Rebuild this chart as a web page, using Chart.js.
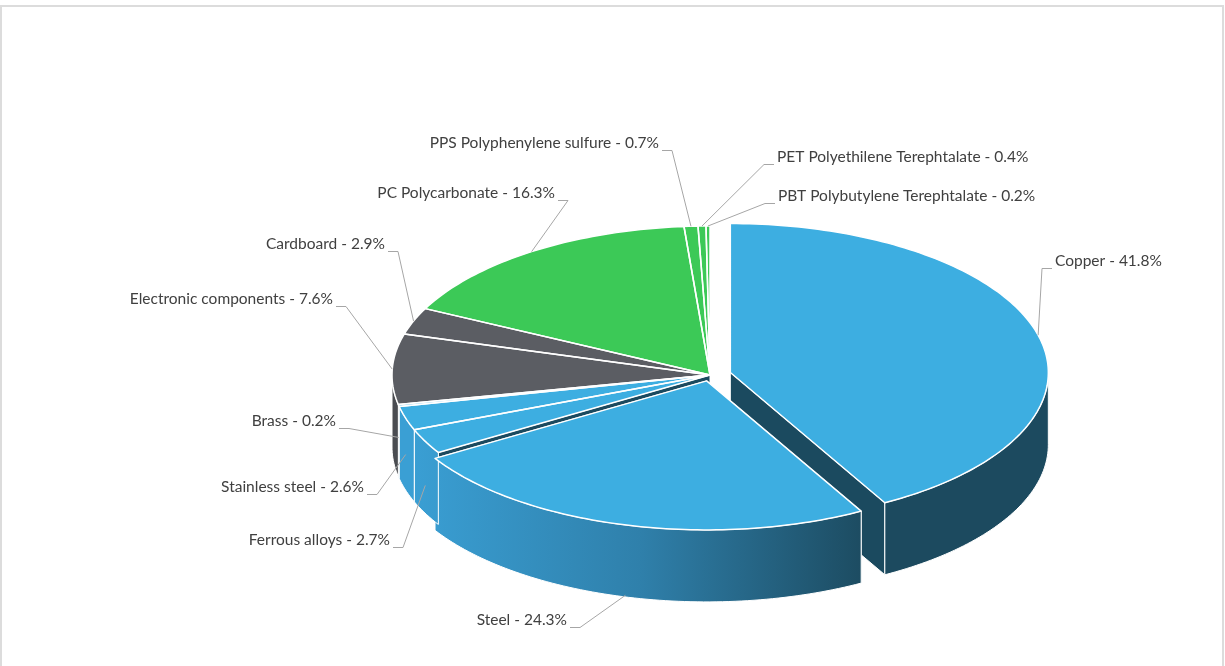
<!DOCTYPE html>
<html>
<head>
<meta charset="utf-8">
<script src="https://cdn.jsdelivr.net/npm/chart.js@4.4.1/dist/chart.umd.min.js"></script>
<style>
  html, body { margin: 0; padding: 0; background: #fff; overflow: hidden; }
  #frame { position: absolute; left: 0; top: 5px; width: 1224px; height: 700px; border: 2px solid #dcdcdc; border-bottom: none; box-sizing: border-box; }
  #pie { position: absolute; left: 0; top: 0; }
</style>
</head>
<body>
<div id="frame"></div>
<canvas id="pie" width="1225" height="666"></canvas>
<script>
// data, clockwise from 12 o'clock
const materials = ['Copper', 'Steel', 'Ferrous alloys', 'Stainless steel', 'Brass',
  'Electronic components', 'Cardboard', 'PC Polycarbonate', 'PPS Polyphenylene sulfure',
  'PET Polyethilene Terephtalate', 'PBT Polybutylene Terephtalate'];
const shares = [41.8, 24.3, 2.7, 2.6, 0.2, 7.6, 2.9, 16.3, 0.7, 0.4, 0.2];
const family = ['metal', 'metal', 'metal', 'metal', 'metal', 'board', 'board',
  'plastic', 'plastic', 'plastic', 'plastic'];

// look
const topColor = { metal: '#3daee1', board: '#5b5d63', plastic: '#3cc957' };
const faceColor = { metal: '#1b4a5f', board: '#35373b', plastic: '#1d5a26' };
const wallColor = {
  metal: ['#3a9fd4', '#2f80ab', '#1c4a5f'],
  board: ['#4a4c51', '#3c3e42', '#2b2c30'],
  plastic: ['#35b04d', '#2a8a3c', '#1d5a26']
};
const ELLIPSE = { x: 710, y: 375, rx: 318, ry: 149, depth: 72 };
const pulled = { 'Copper': 21, 'Steel': 13 };

// label anchor per slice: x, centre y, text alignment
const labelSpots = [
  [1055, 261, 'left'], [567, 620, 'right'], [390, 540, 'right'], [364, 487, 'right'],
  [336, 421, 'right'], [333, 299, 'right'], [385, 244, 'right'], [555, 193, 'right'],
  [659, 143, 'right'], [777, 157, 'left'], [778, 196, 'left']
];

let geo = null;

function toScreen(x, y, dy) {
  return [geo.ex + (x - geo.bx) * geo.sx, geo.ey + (y - geo.by) * geo.sy + (dy || 0)];
}

function rimPoints(el, a0, a1, dy) {
  const pts = [];
  const steps = Math.max(2, Math.ceil(Math.abs(a1 - a0) / 0.02));
  for (let k = 0; k <= steps; k++) {
    const a = a0 + (a1 - a0) * k / steps;
    pts.push(toScreen(el.x + el.outerRadius * Math.cos(a), el.y + el.outerRadius * Math.sin(a), dy));
  }
  return pts;
}

function tracePath(ctx, pts) {
  ctx.beginPath();
  ctx.moveTo(pts[0][0], pts[0][1]);
  for (let k = 1; k < pts.length; k++) ctx.lineTo(pts[k][0], pts[k][1]);
  ctx.closePath();
}

const pie3d = {
  id: 'pie3d',
  afterDatasetUpdate(chart, args) {
    const arcs = args.meta.data;
    const R = arcs[0].outerRadius;
    geo = { bx: arcs[0].x, by: arcs[0].y, ex: ELLIPSE.x, ey: ELLIPSE.y, sx: ELLIPSE.rx / R, sy: ELLIPSE.ry / R };
    arcs.forEach((el, i) => {
      const d = pulled[materials[i]];
      if (!d) return;
      const h = (el.startAngle + el.endAngle) / 2;
      el.x += Math.cos(h) * d / geo.sx;
      el.y += Math.sin(h) * d / geo.sx;
    });
  },
  beforeDatasetsDraw(chart) {
    const ctx = chart.ctx;
    const arcs = chart.getDatasetMeta(0).data;
    const D = ELLIPSE.depth;

    // radial cut faces, back to front
    const faces = [];
    arcs.forEach((el, i) => {
      [el.startAngle, el.endAngle].forEach(a => {
        const c = toScreen(el.x, el.y);
        const p = toScreen(el.x + el.outerRadius * Math.cos(a), el.y + el.outerRadius * Math.sin(a));
        faces.push({ i, c, p, key: (c[1] + p[1]) / 2 });
      });
    });
    faces.sort((a, b) => a.key - b.key);
    ctx.save();
    ctx.lineWidth = 1;
    ctx.strokeStyle = '#ffffff';
    faces.forEach(f => {
      tracePath(ctx, [f.c, f.p, [f.p[0], f.p[1] + D], [f.c[0], f.c[1] + D]]);
      ctx.fillStyle = faceColor[family[f.i]];
      ctx.fill();
      ctx.stroke();
    });

    // outer walls on the front half
    arcs.forEach((el, i) => {
      const a0 = Math.max(el.startAngle, 0);
      const a1 = Math.min(el.endAngle, Math.PI);
      if (a1 <= a0) return;
      const pts = rimPoints(el, a0, a1, 0).concat(rimPoints(el, a1, a0, D));
      const stops = wallColor[family[i]];
      const grad = ctx.createLinearGradient(ELLIPSE.x - 300, 0, ELLIPSE.x + 160, 0);
      grad.addColorStop(0, stops[0]);
      grad.addColorStop(0.5, stops[1]);
      grad.addColorStop(1, stops[2]);
      tracePath(ctx, pts);
      ctx.fillStyle = grad;
      ctx.fill();
      ctx.stroke();
    });
    ctx.restore();

    // squash the library's own arcs into the top ellipse
    ctx.save();
    ctx.translate(geo.ex, geo.ey);
    ctx.scale(geo.sx, geo.sy);
    ctx.translate(-geo.bx, -geo.by);
  },
  afterDatasetsDraw(chart) {
    const ctx = chart.ctx;
    ctx.restore();
    const arcs = chart.getDatasetMeta(0).data;
    const D = ELLIPSE.depth;

    // white edges of the top faces
    ctx.save();
    ctx.strokeStyle = '#ffffff';
    ctx.lineWidth = 1.5;
    ctx.lineJoin = 'round';
    arcs.forEach(el => {
      tracePath(ctx, [toScreen(el.x, el.y)].concat(rimPoints(el, el.startAngle, el.endAngle, 0)));
      ctx.stroke();
    });
    ctx.restore();

    // labels with leader lines
    ctx.save();
    ctx.font = '15.5px Lato, "Open Sans", sans-serif';
    ctx.textBaseline = 'middle';
    ctx.fillStyle = '#404040';
    ctx.strokeStyle = '#a6a6a6';
    ctx.lineWidth = 1;
    arcs.forEach((el, i) => {
      const [lx, ly, align] = labelSpots[i];
      const text = materials[i] + ' - ' + shares[i].toFixed(1) + '%';
      ctx.textAlign = align;
      ctx.fillText(text, lx, ly);

      const h = (el.startAngle + el.endAngle) / 2;
      const t = toScreen(el.x + el.outerRadius * Math.cos(h), el.y + el.outerRadius * Math.sin(h));
      const s = Math.sin(h);
      if (s > 0) t[1] += D * (0.3 + 0.7 * s);
      const dir = align === 'right' ? 1 : -1;
      const x0 = lx + dir * 3;
      const y0 = Math.round(ly + 7) + 0.5;
      ctx.beginPath();
      ctx.moveTo(x0, y0);
      ctx.lineTo(x0 + dir * 10, y0);
      ctx.lineTo(t[0], t[1]);
      ctx.stroke();
    });
    ctx.restore();
  }
};

new Chart(document.getElementById('pie'), {
  type: 'pie',
  data: {
    labels: materials,
    datasets: [{
      data: shares,
      backgroundColor: family.map(f => topColor[f]),
      borderWidth: 0,
      clip: false
    }]
  },
  options: {
    responsive: false,
    animation: false,
    events: [],
    layout: { padding: 0 },
    plugins: { legend: { display: false }, tooltip: { enabled: false } }
  },
  plugins: [pie3d]
});
</script>
</body>
</html>
